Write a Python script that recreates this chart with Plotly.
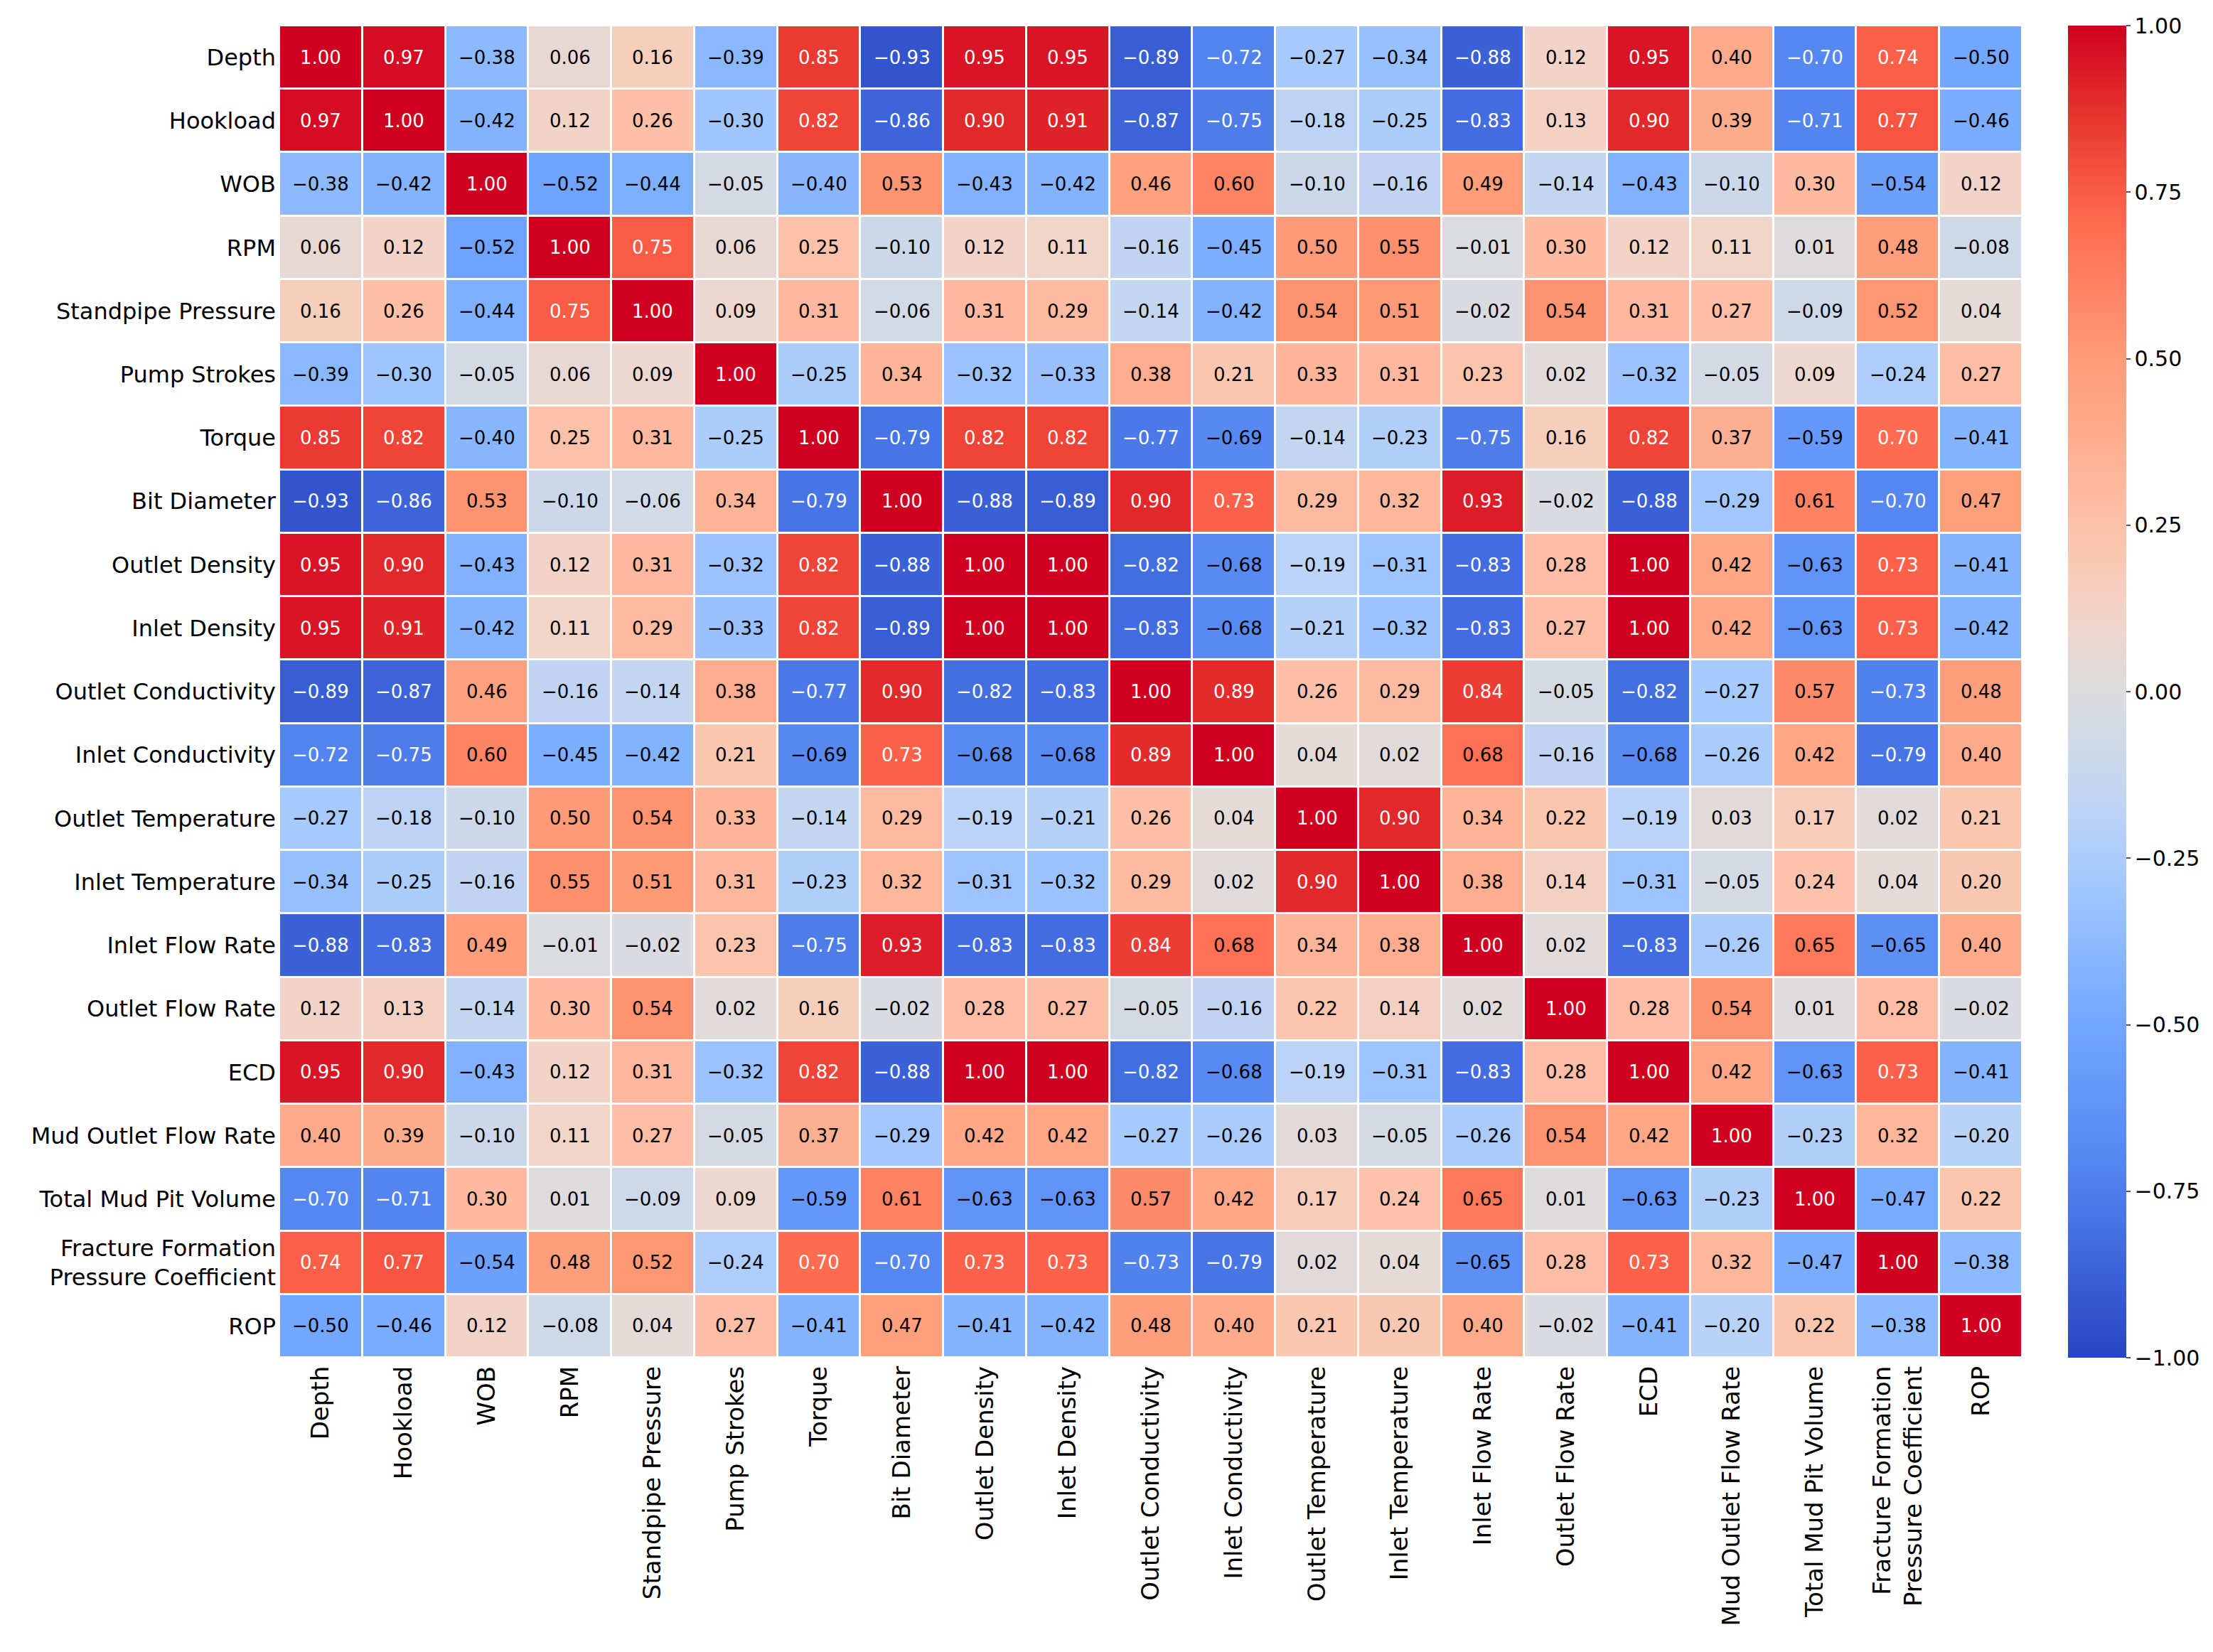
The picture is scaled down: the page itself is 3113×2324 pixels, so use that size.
import plotly.graph_objects as go

labels = ["Depth", "Hookload", "WOB", "RPM", "Standpipe Pressure", "Pump Strokes", "Torque",
          "Bit Diameter", "Outlet Density", "Inlet Density", "Outlet Conductivity",
          "Inlet Conductivity", "Outlet Temperature", "Inlet Temperature", "Inlet Flow Rate",
          "Outlet Flow Rate", "ECD", "Mud Outlet Flow Rate", "Total Mud Pit Volume",
          "Fracture Formation<br>Pressure Coefficient", "ROP"]

corr = [
    [1.00, 0.97, -0.38, 0.06, 0.16, -0.39, 0.85, -0.93, 0.95, 0.95, -0.89, -0.72, -0.27, -0.34, -0.88, 0.12, 0.95, 0.40, -0.70, 0.74, -0.50],
    [0.97, 1.00, -0.42, 0.12, 0.26, -0.30, 0.82, -0.86, 0.90, 0.91, -0.87, -0.75, -0.18, -0.25, -0.83, 0.13, 0.90, 0.39, -0.71, 0.77, -0.46],
    [-0.38, -0.42, 1.00, -0.52, -0.44, -0.05, -0.40, 0.53, -0.43, -0.42, 0.46, 0.60, -0.10, -0.16, 0.49, -0.14, -0.43, -0.10, 0.30, -0.54, 0.12],
    [0.06, 0.12, -0.52, 1.00, 0.75, 0.06, 0.25, -0.10, 0.12, 0.11, -0.16, -0.45, 0.50, 0.55, -0.01, 0.30, 0.12, 0.11, 0.01, 0.48, -0.08],
    [0.16, 0.26, -0.44, 0.75, 1.00, 0.09, 0.31, -0.06, 0.31, 0.29, -0.14, -0.42, 0.54, 0.51, -0.02, 0.54, 0.31, 0.27, -0.09, 0.52, 0.04],
    [-0.39, -0.30, -0.05, 0.06, 0.09, 1.00, -0.25, 0.34, -0.32, -0.33, 0.38, 0.21, 0.33, 0.31, 0.23, 0.02, -0.32, -0.05, 0.09, -0.24, 0.27],
    [0.85, 0.82, -0.40, 0.25, 0.31, -0.25, 1.00, -0.79, 0.82, 0.82, -0.77, -0.69, -0.14, -0.23, -0.75, 0.16, 0.82, 0.37, -0.59, 0.70, -0.41],
    [-0.93, -0.86, 0.53, -0.10, -0.06, 0.34, -0.79, 1.00, -0.88, -0.89, 0.90, 0.73, 0.29, 0.32, 0.93, -0.02, -0.88, -0.29, 0.61, -0.70, 0.47],
    [0.95, 0.90, -0.43, 0.12, 0.31, -0.32, 0.82, -0.88, 1.00, 1.00, -0.82, -0.68, -0.19, -0.31, -0.83, 0.28, 1.00, 0.42, -0.63, 0.73, -0.41],
    [0.95, 0.91, -0.42, 0.11, 0.29, -0.33, 0.82, -0.89, 1.00, 1.00, -0.83, -0.68, -0.21, -0.32, -0.83, 0.27, 1.00, 0.42, -0.63, 0.73, -0.42],
    [-0.89, -0.87, 0.46, -0.16, -0.14, 0.38, -0.77, 0.90, -0.82, -0.83, 1.00, 0.89, 0.26, 0.29, 0.84, -0.05, -0.82, -0.27, 0.57, -0.73, 0.48],
    [-0.72, -0.75, 0.60, -0.45, -0.42, 0.21, -0.69, 0.73, -0.68, -0.68, 0.89, 1.00, 0.04, 0.02, 0.68, -0.16, -0.68, -0.26, 0.42, -0.79, 0.40],
    [-0.27, -0.18, -0.10, 0.50, 0.54, 0.33, -0.14, 0.29, -0.19, -0.21, 0.26, 0.04, 1.00, 0.90, 0.34, 0.22, -0.19, 0.03, 0.17, 0.02, 0.21],
    [-0.34, -0.25, -0.16, 0.55, 0.51, 0.31, -0.23, 0.32, -0.31, -0.32, 0.29, 0.02, 0.90, 1.00, 0.38, 0.14, -0.31, -0.05, 0.24, 0.04, 0.20],
    [-0.88, -0.83, 0.49, -0.01, -0.02, 0.23, -0.75, 0.93, -0.83, -0.83, 0.84, 0.68, 0.34, 0.38, 1.00, 0.02, -0.83, -0.26, 0.65, -0.65, 0.40],
    [0.12, 0.13, -0.14, 0.30, 0.54, 0.02, 0.16, -0.02, 0.28, 0.27, -0.05, -0.16, 0.22, 0.14, 0.02, 1.00, 0.28, 0.54, 0.01, 0.28, -0.02],
    [0.95, 0.90, -0.43, 0.12, 0.31, -0.32, 0.82, -0.88, 1.00, 1.00, -0.82, -0.68, -0.19, -0.31, -0.83, 0.28, 1.00, 0.42, -0.63, 0.73, -0.41],
    [0.40, 0.39, -0.10, 0.11, 0.27, -0.05, 0.37, -0.29, 0.42, 0.42, -0.27, -0.26, 0.03, -0.05, -0.26, 0.54, 0.42, 1.00, -0.23, 0.32, -0.20],
    [-0.70, -0.71, 0.30, 0.01, -0.09, 0.09, -0.59, 0.61, -0.63, -0.63, 0.57, 0.42, 0.17, 0.24, 0.65, 0.01, -0.63, -0.23, 1.00, -0.47, 0.22],
    [0.74, 0.77, -0.54, 0.48, 0.52, -0.24, 0.70, -0.70, 0.73, 0.73, -0.73, -0.79, 0.02, 0.04, -0.65, 0.28, 0.73, 0.32, -0.47, 1.00, -0.38],
    [-0.50, -0.46, 0.12, -0.08, 0.04, 0.27, -0.41, 0.47, -0.41, -0.42, 0.48, 0.40, 0.21, 0.20, 0.40, -0.02, -0.41, -0.20, 0.22, -0.38, 1.00],
]

colorbar_ticks = [1.0, 0.75, 0.5, 0.25, 0.0, -0.25, -0.5, -0.75, -1.0]

# coolwarm-like scale as seen in the picture (value -> rgb)
scale_pts = [
    (-1.00, (40, 70, 195)), (-0.90, (55, 92, 210)), (-0.80, (70, 115, 228)),
    (-0.70, (86, 135, 240)), (-0.60, (100, 150, 250)), (-0.50, (115, 166, 255)),
    (-0.40, (135, 182, 255)), (-0.30, (160, 198, 255)), (-0.20, (184, 210, 248)),
    (-0.10, (203, 216, 234)), (0.00, (220, 220, 222)), (0.10, (240, 214, 204)),
    (0.20, (250, 200, 178)), (0.30, (255, 186, 160)), (0.40, (255, 170, 138)),
    (0.50, (255, 155, 120)), (0.60, (255, 132, 100)), (0.70, (255, 108, 80)),
    (0.80, (242, 75, 58)), (0.90, (225, 40, 42)), (1.00, (208, 0, 32)),
]
colorscale = [[(v + 1) / 2, "rgb(%d,%d,%d)" % c] for v, c in scale_pts]

n = len(labels)
xs = list(range(n))
ys = list(range(n))

def fmt(v):
    s = "%.2f" % abs(v)
    return ("\u2212" + s) if v < 0 else s

fig = go.Figure()
fig.add_trace(go.Heatmap(
    z=corr, x=xs, y=ys, zmin=-1, zmax=1, colorscale=colorscale,
    xgap=3, ygap=3, hoverinfo="skip",
    colorbar=dict(
        x=1.0261, xanchor="left", xref="paper", y=0.5, yanchor="middle",
        len=1.0, lenmode="fraction", thickness=82, outlinewidth=0,
        xpad=0, ypad=0,
        tickvals=colorbar_ticks, ticktext=[fmt(t) for t in colorbar_ticks],
        ticks="outside", ticklen=6, tickwidth=2, tickcolor="#555",
        tickfont=dict(family="DejaVu Sans", size=30, color="black"),
    ),
))

annotations = []
for i in range(n):
    for j in range(n):
        v = corr[i][j]
        annotations.append(dict(
            x=j, y=i, xref="x", yref="y", text=fmt(v), showarrow=False,
            font=dict(family="DejaVu Sans", size=26,
                      color="white" if abs(v) >= 0.695 else "black"),
        ))

fig.update_layout(
    width=3113, height=2324,
    margin=dict(l=393, r=268, t=36, b=414, autoexpand=False),
    paper_bgcolor="white", plot_bgcolor="white",
    annotations=annotations,
    font=dict(family="DejaVu Sans", color="black"),
)
fig.update_xaxes(
    tickvals=xs, ticktext=labels, tickangle=-90, ticks="", showgrid=False,
    zeroline=False, showline=False, range=[-0.5, n - 0.5], automargin=False,
    tickfont=dict(family="DejaVu Sans", size=34, color="black"),
    ticklabelstandoff=4,
)
fig.update_yaxes(
    tickvals=ys, ticktext=labels, ticks="", showgrid=False, zeroline=False,
    showline=False, range=[n - 0.5, -0.5], automargin=False,
    tickfont=dict(family="DejaVu Sans", size=32, color="black"),
    ticklabelstandoff=4,
)

fig.write_html("out.html")
